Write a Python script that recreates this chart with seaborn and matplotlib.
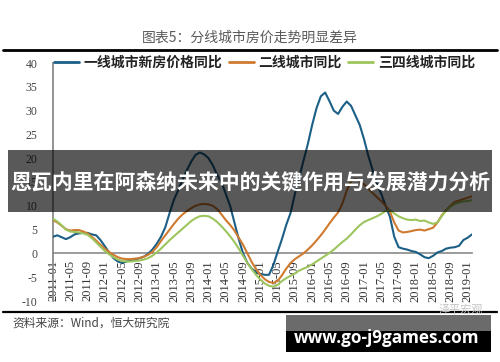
import matplotlib
matplotlib.use("Agg")
import matplotlib.pyplot as plt
import numpy as np
import pandas as pd
import seaborn as sns
from matplotlib.patches import Rectangle
from matplotlib.lines import Line2D

# ---------------- data ----------------
months = [str(p) for p in pd.period_range("2011-01", "2019-02", freq="M")]

tier1 = [3.5, 3.8, 3.4, 3.0, 3.4, 4.0, 4.2, 4.3, 4.3, 4.0, 3.8, 2.8,
         1.5, 0.2, -1.0, -1.7, -2.0, -1.7, -1.5, -1.3, -1.0, -0.7, -0.1, 0.8,
         2.0, 3.5, 5.5, 8.5, 11.3, 13.3, 15.5, 17.5, 19.3, 20.7, 21.2, 20.8,
         20.0, 18.5, 16.5, 15.0, 12.5, 10.0, 6.5, 3.0, 0.0, -2.0, -3.2, -3.9,
         -4.3, -4.5, -4.5, -2.5, 0.3, 3.0, 6.0, 8.5, 12.5, 16.0, 19.5, 23.0,
         27.0, 30.5, 33.0, 33.8, 32.0, 30.0, 29.3, 30.8, 31.9, 31.0, 29.0, 27.0,
         24.0, 20.5, 17.5, 14.5, 12.5, 10.0, 7.7, 3.5, 1.3, 1.0, 0.8, 0.5,
         0.3, -0.2, -0.8, -1.0, -0.5, 0.2, 0.5, 1.0, 1.2, 1.3, 1.6, 2.8,
         3.3, 4.0]

tier2 = [7.0, 6.5, 5.8, 5.1, 4.8, 4.9, 4.9, 4.6, 4.2, 3.5, 2.7, 1.8,
         1.0, 0.3, -0.3, -0.8, -1.1, -1.2, -1.2, -1.1, -1.0, -0.7, -0.3, 0.3,
         1.3, 2.6, 3.8, 5.0, 6.2, 7.3, 8.2, 8.9, 9.5, 10.0, 10.3, 10.4,
         10.3, 10.0, 9.3, 8.2, 7.0, 6.0, 4.8, 3.3, 1.8, 0.0, -1.8, -3.3,
         -4.5, -5.4, -6.0, -6.2, -5.8, -4.6, -3.2, -2.0, -1.2, -0.6, 0.0, 0.8,
         1.7, 2.7, 3.8, 5.0, 6.3, 7.5, 8.6, 10.5, 13.2, 15.2, 15.6, 15.2,
         14.5, 13.6, 12.7, 11.8, 11.0, 10.0, 8.8, 6.5, 4.8, 4.4, 4.5, 4.7,
         4.9, 5.0, 4.8, 5.1, 5.4, 6.5, 8.0, 9.1, 10.0, 10.8, 11.1, 11.4,
         11.7, 12.0]

tier3 = [7.3, 6.7, 5.9, 5.0, 4.6, 4.5, 4.4, 4.2, 3.9, 3.2, 2.3, 1.4,
         0.5, -0.2, -0.8, -1.3, -1.6, -1.7, -1.7, -1.6, -1.5, -1.3, -1.0, -0.5,
         0.2, 1.0, 1.9, 2.8, 3.6, 4.4, 5.2, 6.0, 6.8, 7.4, 7.8, 7.9,
         7.8, 7.3, 6.6, 5.7, 4.7, 3.6, 2.4, 1.0, -0.5, -2.0, -3.3, -4.5,
         -5.5, -6.3, -6.8, -7.0, -6.6, -5.8, -5.2, -4.7, -4.2, -3.6, -3.2, -2.8,
         -2.3, -1.7, -1.1, -0.5, 0.1, 0.8, 1.6, 2.4, 3.1, 4.0, 5.0, 5.9,
         6.6, 7.0, 7.4, 7.8, 8.3, 8.9, 9.1, 8.4, 7.8, 7.4, 7.1, 7.0,
         7.1, 6.8, 6.9, 6.5, 6.2, 6.5, 7.8, 9.0, 9.8, 10.4, 10.7, 10.9,
         11.0, 11.2]

series_names = ["一线城市新房价格同比", "二线城市同比", "三四线城市同比"]
series_colors = ["#1b5f86", "#cf7a2f", "#9dc55e"]
xtick_labels = months[::4]
ytick_values = list(range(-10, 41, 5))

title_text = "图表5：分线城市房价走势明显差异"
source_text = "资料来源：Wind，恒大研究院"
banner_text = "恩瓦内里在阿森纳未来中的关键作用与发展潜力分析"
mark_text = "泽平宏观"
url_text = "www.go-j9games.com"

# ---------------- style ----------------
sns.set_style("white")
plt.rcParams["font.family"] = ["Noto Sans CJK SC", "DejaVu Sans"]
CJK = ["Noto Sans CJK SC", "DejaVu Sans"]

W, H = 500, 362
fig = plt.figure(figsize=(W / 100, H / 100), dpi=100)
fig.patch.set_facecolor("white")

def fx(px):
    return px / W

def fy(py):
    return 1 - py / H

ax = fig.add_axes([fx(53), fy(301), fx(472 - 53), (301 - 63) / H])
ax.set_facecolor("white")

df = pd.DataFrame({
    "m": np.tile(np.arange(len(months)), 3),
    "value": tier1 + tier2 + tier3,
    "series": np.repeat(series_names, len(months)),
})
sns.lineplot(data=df, x="m", y="value", hue="series",
             palette=dict(zip(series_names, series_colors)),
             linewidth=1.5, legend=False, ax=ax, zorder=3)

ax.set_xlim(0, len(months) - 1)
ax.set_ylim(-10, 40)
ax.set_xlabel("")
ax.set_ylabel("")

for s in ["top", "right"]:
    ax.spines[s].set_visible(False)
ax.spines["left"].set_color("#8a8a8a")
ax.spines["left"].set_linewidth(1.3)
ax.spines["bottom"].set_position(("data", 0))
ax.spines["bottom"].set_color("#8a8a8a")
ax.spines["bottom"].set_linewidth(1.2)

ax.set_yticks(ytick_values)
ax.set_yticklabels([str(v) for v in ytick_values], family="Liberation Serif",
                   fontsize=8.5, color="#444444")
ax.set_xticks(np.arange(0, len(months), 4))
ax.set_xticklabels(xtick_labels, rotation=90, family="Liberation Serif",
                   fontsize=9, color="#333333")
ax.tick_params(axis="y", direction="out", length=4, width=1, color="#8a8a8a", pad=7)
ax.tick_params(axis="x", direction="out", length=3, width=1, color="#8a8a8a", pad=2)

# legend
handles = [Line2D([], [], color=c, lw=2) for c in series_colors]
fig.legend(handles, series_names, loc="center left",
           bbox_to_anchor=(fx(54), fy(63)), ncol=3, frameon=False,
           prop={"family": CJK, "size": 10, "weight": "bold"},
           handlelength=1.8, handletextpad=0.35, columnspacing=0.45,
           borderpad=0, borderaxespad=0, labelcolor="#222222")

# title and rules
fig.text(0.5, fy(38), title_text, ha="center", va="center", fontsize=10,
         color="#5a5a5a", family=CJK)
fig.add_artist(Line2D([fx(3), fx(497)], [fy(49.5), fy(49.5)], color="black", lw=2))
fig.add_artist(Line2D([fx(3), fx(497)], [fy(312), fy(312)], color="black", lw=1.6))
fig.text(fx(12), fy(323), source_text, ha="left", va="center", fontsize=8.5,
         color="#444444", family=CJK, style="italic")
fig.text(fx(483), fy(309), mark_text, ha="right", va="center", fontsize=8,
         color="#c4c4c4", family=CJK)

# banner overlay
fig.add_artist(Rectangle((fx(8), fy(212)), fx(484), 62 / H,
                         transform=fig.transFigure, facecolor="black",
                         alpha=0.65, edgecolor="none", zorder=10))
bt = fig.text(fx(250), fy(182), banner_text, ha="center", va="center",
              fontsize=15, color="white", weight="bold", family=CJK, zorder=11)

# url box
fig.add_artist(Rectangle((fx(286), fy(331)), fx(205), 16 / H,
                         transform=fig.transFigure, facecolor="#6b6b6b",
                         edgecolor="none", zorder=10))
fig.add_artist(Rectangle((fx(286), fy(352)), fx(205), 21 / H,
                         transform=fig.transFigure, facecolor="black",
                         edgecolor="none", zorder=10))
ut = fig.text(fx(387), fy(343), url_text, ha="center", va="baseline",
              fontsize=13, color="white", weight="bold",
              family=["Open Sans", "DejaVu Sans"], zorder=11)

# fit text widths
renderer = fig.canvas.get_renderer()
for t, target in [(bt, 482), (ut, 184)]:
    w = t.get_window_extent(renderer).width
    t.set_fontsize(t.get_fontsize() * target / w)

fig.savefig("out.png", dpi=100)
